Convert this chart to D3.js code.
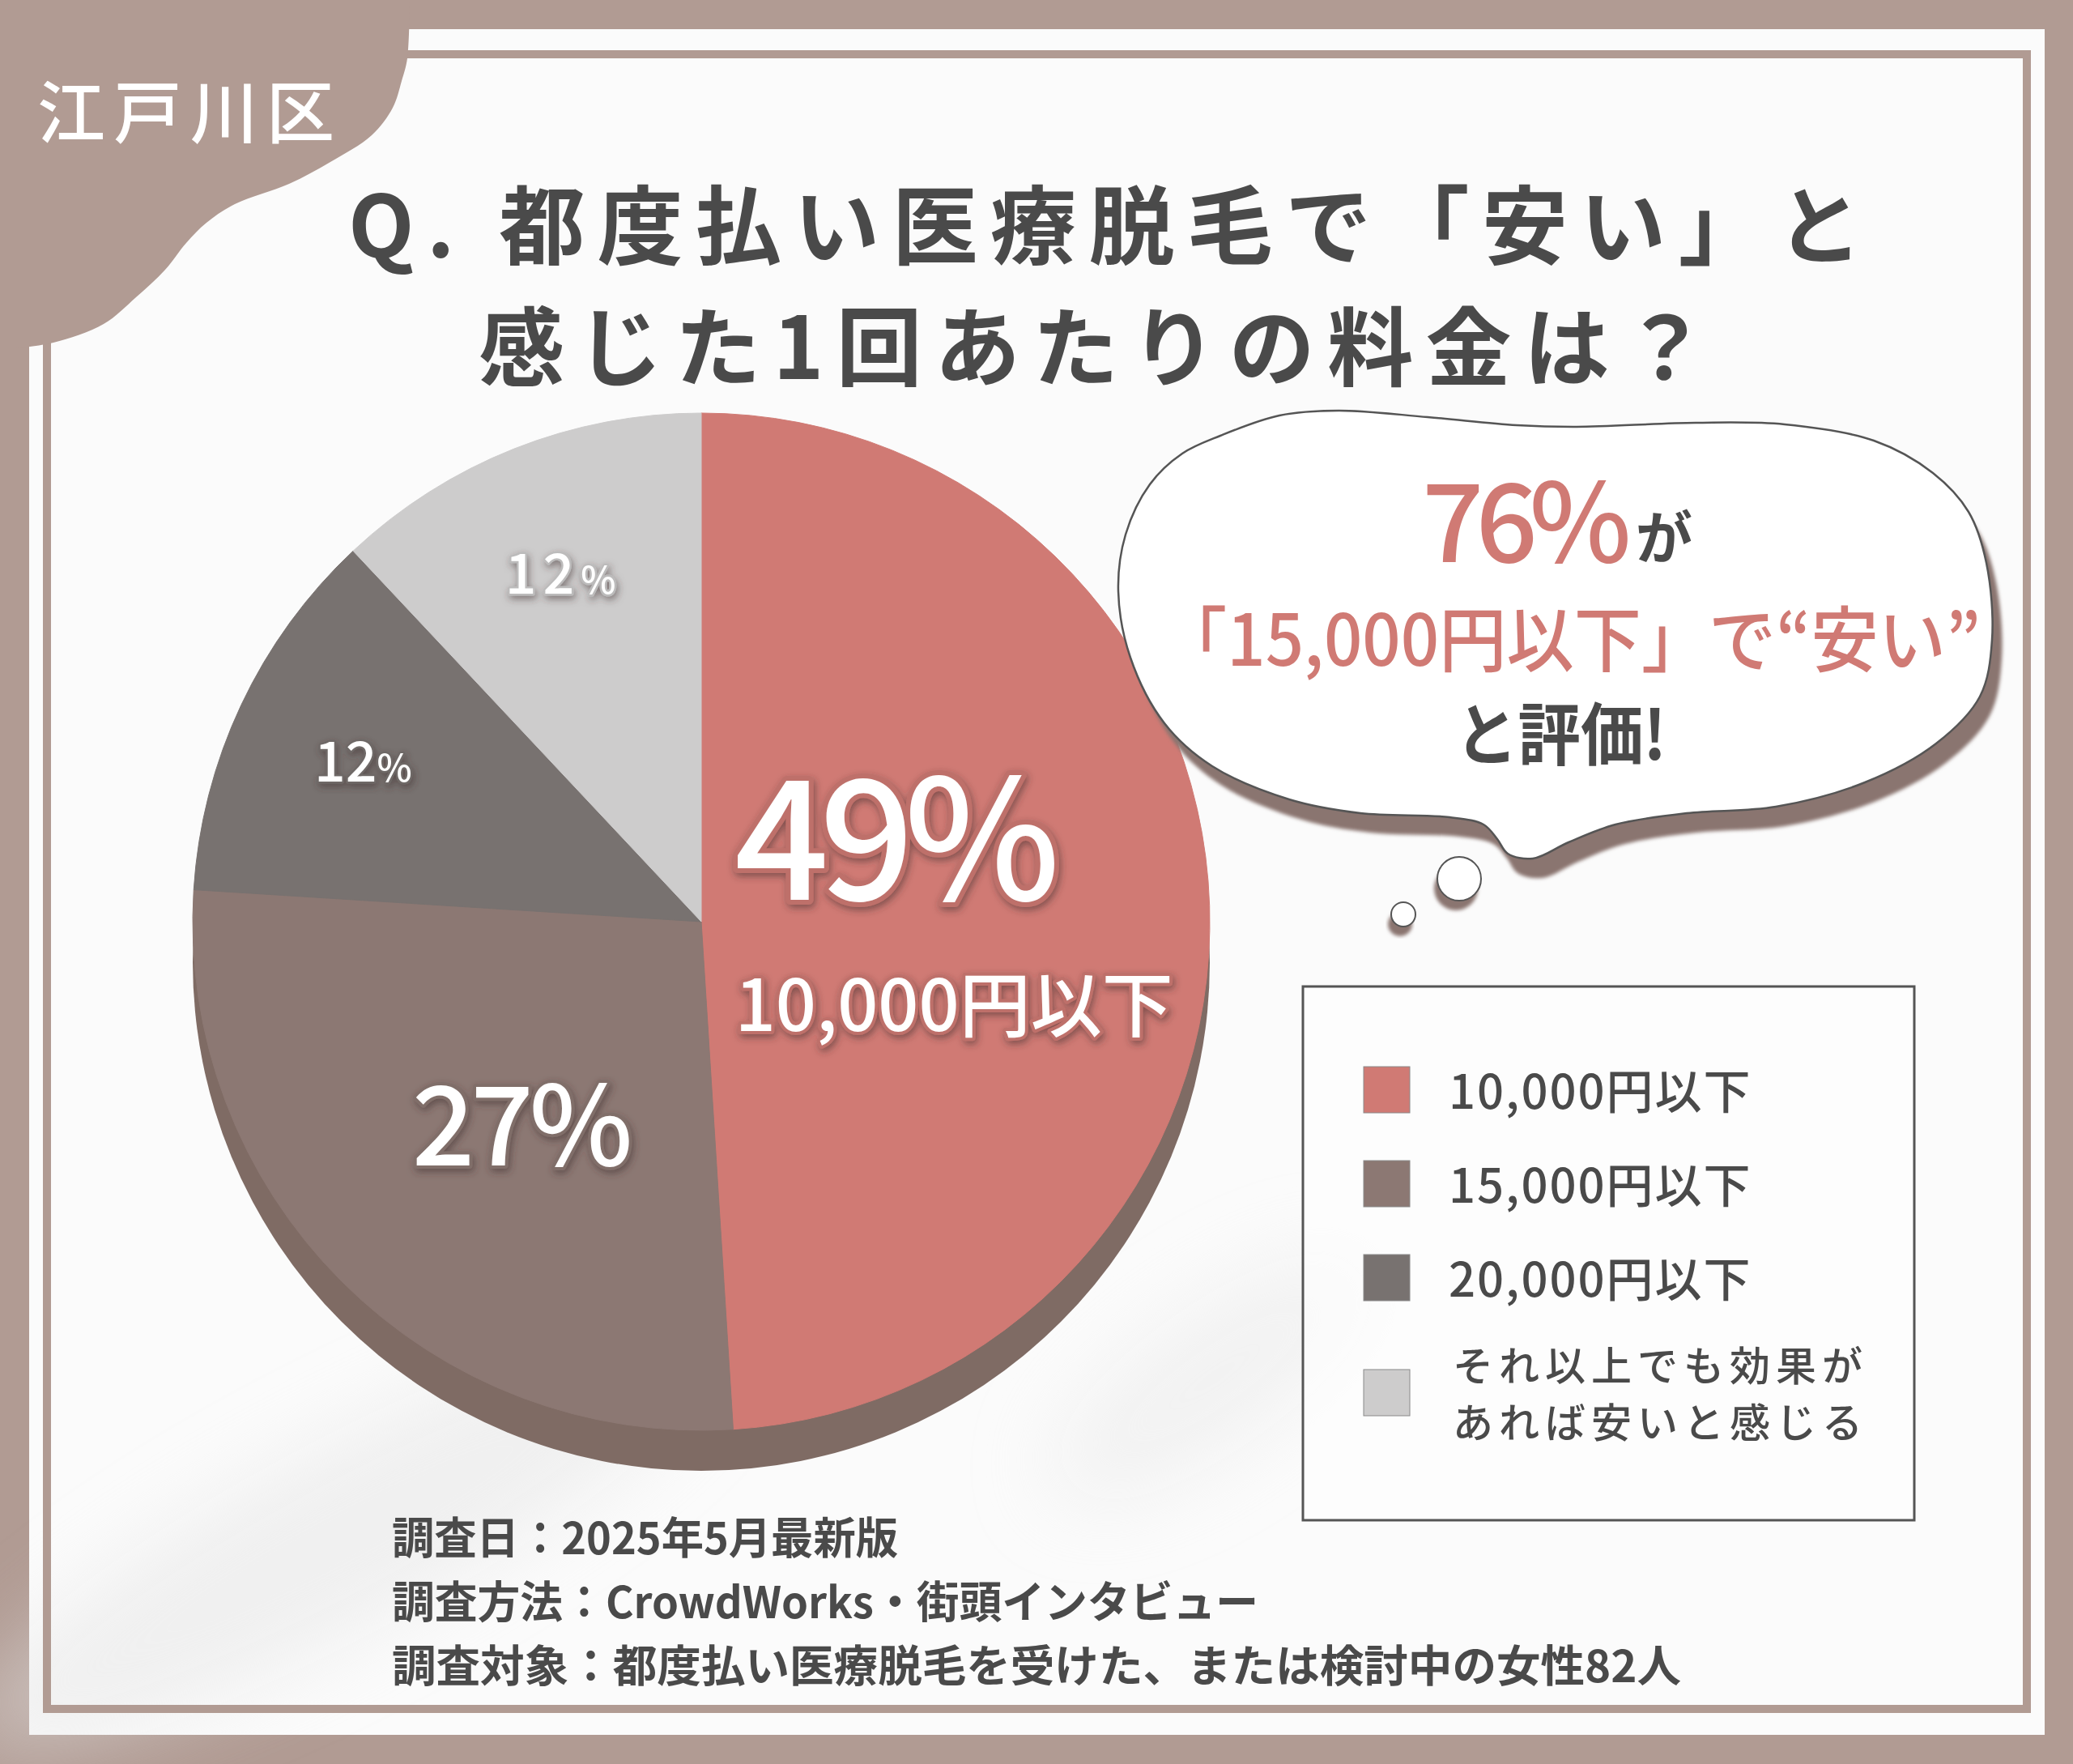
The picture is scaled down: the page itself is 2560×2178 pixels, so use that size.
<!DOCTYPE html>
<html>
<head>
  <meta charset="utf-8">
  <script src="https://cdn.jsdelivr.net/npm/d3@7"></script>
  <style>
    body { margin: 0; background: #b19b93; }
    svg { display: block; }
    text { font-family: "Noto Sans CJK JP", "Noto Sans", sans-serif; }
  </style>
</head>
<body>
<script type="text/javascript">

  /* data */
  var categories = ["10,000円以下", "15,000円以下", "20,000円以下", "それ以上でも効果が|あれば安いと感じる"];
  var shares = [49, 27, 12, 12];
  var palette = ["#d07a74", "#8c7873", "#787270", "#cdcccc"];

  var titleLines = ["Q. 都度払い医療脱毛で「安い」と", "感じた1回あたりの料金は？"];
  var areaName = "江戸川区";
  var bubbleLines = ["「15,000円以下」で“安い”", "と評価!"];
  var bubbleShare = 76;
  var notes = ["調査日：2025年5月最新版",
               "調査方法：CrowdWorks・街頭インタビュー",
               "調査対象：都度払い医療脱毛を受けた、または検討中の女性82人"];

  var w = 2560, h = 2178;
  var brown = "#b19b93";
  var ink = "#4a4a4a";

  var svg = d3.select("body").append("svg")
              .attr("width", w).attr("height", h);

  var defs = svg.append("defs");

  var glow = defs.append("filter").attr("id", "glow")
                 .attr("x", "-20%").attr("y", "-30%").attr("width", "140%").attr("height", "160%");
  glow.append("feDropShadow").attr("dx", 2).attr("dy", 4).attr("stdDeviation", 5)
      .attr("flood-color", "#3c2f2d").attr("flood-opacity", 0.55);

  var soft = defs.append("filter").attr("id", "soft")
                 .attr("x", "-50%").attr("y", "-50%").attr("width", "200%").attr("height", "200%");
  soft.append("feGaussianBlur").attr("stdDeviation", 50);

  var blur2 = defs.append("filter").attr("id", "blur2");
  blur2.append("feGaussianBlur").attr("stdDeviation", 2);

/*************************************************************************************************/
/* frame */

  svg.append("rect").attr("width", w).attr("height", h).attr("fill", brown);
  svg.append("rect").attr("x", 36).attr("y", 36).attr("width", 2489).attr("height", 2106)
     .attr("fill", "#fbfbfb");

  var texture = svg.append("g").attr("filter", "url(#soft)").attr("opacity", 0.5);
  texture.append("ellipse").attr("cx", 420).attr("cy", 1900).attr("rx", 520).attr("ry", 110)
         .attr("transform", "rotate(-28 420 1900)").attr("fill", "#e4e4e4");
  texture.append("ellipse").attr("cx", 1500).attr("cy", 1700).attr("rx", 240).attr("ry", 80)
         .attr("transform", "rotate(-35 1500 1700)").attr("fill", "#e8e8e8");

  svg.append("rect").attr("x", 58).attr("y", 67).attr("width", 2445).attr("height", 2043)
     .attr("fill", "none").attr("stroke", brown).attr("stroke-width", 10);

  var tabPts = [[506, 0], [503, 72], [496, 100], [485, 133], [459, 167], [408, 200], [357, 227],
                [290, 252], [255, 275], [230, 300], [204, 333], [168, 367], [128, 400], [66, 423], [20, 430]];
  var tabLine = d3.line().curve(d3.curveCatmullRom);
  svg.append("path")
     .attr("d", tabLine(tabPts) + "L0,430L0,0Z")
     .attr("fill", brown);

  svg.append("text").attr("x", 46).attr("y", 170)
     .attr("font-size", 84).attr("font-weight", 500).attr("fill", "#ffffff")
     .attr("textLength", 367).attr("lengthAdjust", "spacing")
     .text(areaName);

/*************************************************************************************************/
/* title */

  var titleX = [430, 591], titleY = [318, 468], titleW = [1870, 1518];
  svg.selectAll("text.title").data(titleLines).enter().append("text")
     .attr("class", "title")
     .attr("x", function(d, i) { return titleX[i]; })
     .attr("y", function(d, i) { return titleY[i]; })
     .attr("font-size", 106).attr("font-weight", 700).attr("fill", ink)
     .attr("textLength", function(d, i) { return titleW[i]; })
     .attr("lengthAdjust", "spacing")
     .text(function(d) { return d; });

/*************************************************************************************************/
/* pie */

  var cx = 866, cy = 1138, r = 628, depth = 50;
  var labelR = [0.44, 0.53, 0.735, 0.735];

  var pie = d3.pie().sort(null).value(function(d) { return d; });
  var arcs = pie(shares);
  var arc = d3.arc().innerRadius(0).outerRadius(r);

  var pieG = svg.append("g").attr("transform", "translate(" + cx + "," + cy + ")");

  pieG.append("circle").attr("cx", 0).attr("cy", depth).attr("r", r).attr("fill", "#7f6b64");

  pieG.selectAll("path.slice").data(arcs).enter().append("path")
      .attr("class", "slice")
      .attr("d", arc)
      .attr("fill", function(d, i) { return palette[i]; })
      .attr("stroke", function(d, i) { return palette[i]; })
      .attr("stroke-width", 1);

  function labelPos(d, i) {
    return d3.arc().innerRadius(r * labelR[i]).outerRadius(r * labelR[i]).centroid(d);
  }
  function edge(i) { return d3.color(palette[i]).darker(0.25).formatHex(); }

  var labels = pieG.append("g").attr("fill", "#ffffff").attr("filter", "url(#glow)")
                   .attr("font-weight", 500).attr("paint-order", "stroke")
                   .attr("stroke-linejoin", "round");

  // big slice: share + category
  var p0 = labelPos(arcs[0], 0);
  labels.append("text").attr("x", p0[0] - 40).attr("y", p0[1] - 18)
        .attr("text-anchor", "middle").attr("font-size", 205).attr("letter-spacing", -12)
        .attr("stroke", edge(0)).attr("stroke-width", 12)
        .text(shares[0] + "%");
  labels.append("text").attr("x", p0[0] + 36).attr("y", p0[1] + 144)
        .attr("text-anchor", "middle").attr("font-size", 88)
        .attr("stroke", edge(0)).attr("stroke-width", 8)
        .text(categories[0]);

  var p1 = labelPos(arcs[1], 1);
  labels.append("text").attr("x", p1[0] + 12).attr("y", p1[1] + 66)
        .attr("text-anchor", "middle").attr("font-size", 136).attr("letter-spacing", -5)
        .attr("stroke", edge(1)).attr("stroke-width", 8)
        .text(shares[1] + "%");

  [2, 3].forEach(function(i) {
    var p = labelPos(arcs[i], i);
    var t = labels.append("text").attr("x", p[0]).attr("y", p[1] + 24)
                  .attr("text-anchor", "middle")
                  .attr("stroke", edge(i)).attr("stroke-width", 5)
                  .attr("letter-spacing", i == 3 ? 8 : 0);
    t.append("tspan").attr("font-size", 68).text(shares[i]);
    t.append("tspan").attr("font-size", 46).text("%");
  });

/*************************************************************************************************/
/* thought bubble */

  var bubblePts = [[1507, 538], [1580, 513], [1653, 507], [1763, 515], [1873, 525], [1947, 527],
                   [2094, 522], [2204, 524], [2314, 544], [2387, 584], [2431, 632], [2453, 695],
                   [2460, 790], [2445, 860], [2391, 918], [2303, 966], [2193, 996], [2083, 1004],
                   [1995, 1018], [1937, 1040], [1893, 1060], [1862, 1054], [1849, 1036], [1832, 1018],
                   [1790, 1009], [1680, 1004], [1592, 987], [1497, 946], [1438, 893], [1396, 812],
                   [1381, 730], [1390, 660], [1420, 598], [1460, 560]];
  var bubbleLine = d3.line().curve(d3.curveCatmullRomClosed.alpha(0.5));
  var bubble = svg.append("g");

  bubble.append("path").attr("d", bubbleLine(bubblePts))
        .attr("transform", "translate(12,24)").attr("fill", "#8a7570").attr("filter", "url(#blur2)");
  bubble.append("path").attr("d", bubbleLine(bubblePts))
        .attr("fill", "#ffffff").attr("stroke", "#555555").attr("stroke-width", 2.5);

  var dots = [[1802, 1085, 27], [1733, 1129, 15]];
  bubble.selectAll("circle.shade").data(dots).enter().append("circle")
        .attr("cx", function(d) { return d[0] - 4; }).attr("cy", function(d) { return d[1] + 12; })
        .attr("r", function(d) { return d[2]; }).attr("fill", "#8a7570").attr("filter", "url(#blur2)");
  bubble.selectAll("circle.dot").data(dots).enter().append("circle")
        .attr("cx", function(d) { return d[0]; }).attr("cy", function(d) { return d[1]; })
        .attr("r", function(d) { return d[2]; })
        .attr("fill", "#ffffff").attr("stroke", "#555555").attr("stroke-width", 2);

  bubble.append("text").attr("x", 1756).attr("y", 694)
        .attr("font-size", 134).attr("font-weight", 500).attr("fill", palette[0])
        .attr("letter-spacing", -10)
        .text(bubbleShare + "%");
  bubble.append("text").attr("x", 2020).attr("y", 690)
        .attr("font-size", 70).attr("font-weight", 700).attr("fill", ink)
        .text("が");
  bubble.append("text").attr("x", 1432).attr("y", 822)
        .attr("font-size", 88).attr("font-weight", 500).attr("fill", palette[0])
        .attr("textLength", 1014).attr("lengthAdjust", "spacingAndGlyphs")
        .text(bubbleLines[0]);
  bubble.append("text").attr("x", 1797).attr("y", 938)
        .attr("font-size", 84).attr("font-weight", 700).attr("fill", ink)
        .attr("textLength", 261).attr("lengthAdjust", "spacingAndGlyphs")
        .text(bubbleLines[1]);

/*************************************************************************************************/
/* legend */

  var legend = svg.append("g").attr("class", "legend");
  legend.append("rect").attr("x", 1609).attr("y", 1218).attr("width", 755).attr("height", 659)
        .attr("fill", "rgba(255,255,255,0.6)").attr("stroke", "#555555").attr("stroke-width", 3);

  var rowY = d3.scaleLinear().domain([0, 1]).range([1345, 1461]);
  function rowCenter(d, i) {
    var lines = d.split("|").length;
    return rowY(i) + (lines - 1) * 26;
  }

  var rows = legend.selectAll("g.row").data(categories).enter().append("g")
                   .attr("class", "row")
                   .attr("transform", function(d, i) { return "translate(0," + rowCenter(d, i) + ")"; });

  rows.append("rect").attr("x", 1684).attr("y", -28).attr("width", 57).attr("height", 57)
      .attr("fill", function(d, i) { return palette[i]; })
      .attr("stroke", "#8a8a8a").attr("stroke-width", 1);

  rows.each(function(d) {
    var parts = d.split("|");
    var g = d3.select(this);
    if (parts.length == 1) {
      g.append("text").attr("x", 1789).attr("y", 24)
       .attr("font-size", 58).attr("font-weight", 500).attr("fill", ink)
       .attr("letter-spacing", 2).text(d);
    } else {
      g.selectAll("text").data(parts).enter().append("text")
       .attr("x", 1794).attr("y", function(p, j) { return -14 + j * 70; })
       .attr("font-size", 50).attr("font-weight", 500).attr("fill", ink)
       .attr("letter-spacing", 7).text(function(p) { return p; });
    }
  });

/*************************************************************************************************/
/* notes */

  var noteW = [625, 1070, 1592];
  svg.selectAll("text.note").data(notes).enter().append("text")
     .attr("class", "note")
     .attr("x", 484)
     .attr("y", function(d, i) { return 1919 + i * 79; })
     .attr("font-size", 54).attr("font-weight", 700).attr("fill", ink)
     .attr("textLength", function(d, i) { return noteW[i]; })
     .attr("lengthAdjust", "spacingAndGlyphs")
     .text(function(d) { return d; });

</script>
</body>
</html>
